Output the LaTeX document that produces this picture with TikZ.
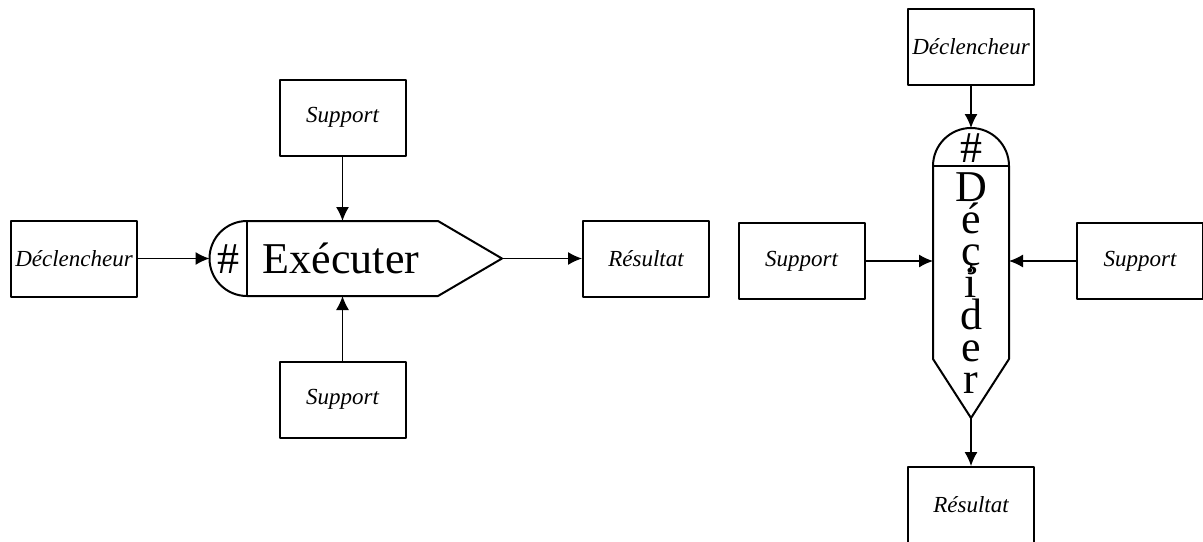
\documentclass[tikz,border=0pt]{standalone}
\usepackage{fontspec}
\setmainfont{Liberation Serif}
\usetikzlibrary{arrows.meta}
\begin{document}
\begin{tikzpicture}[x=0.5pt,y=-0.5pt,line join=round,>={Latex[length=7pt,width=6.5pt]},
	boite/.style={draw,line width=1pt,minimum width=63pt,minimum height=38pt,inner sep=0pt,font=\fontsize{11.5}{14}\selectfont\itshape},
	fleche/.style={->,line width=0.65pt},
	grand/.style={inner sep=0pt,font=\fontsize{22}{16}\selectfont}]
	\useasboundingbox (0,0) rectangle (1203,541);
	% Executer
	\node[boite] (decl1) at (74,258.5) {Déclencheur};
	\node[boite] (supH) at (342.5,117.5) {Support};
	\node[boite] (supB) at (342.5,399.5) {Support};
	\node[boite] (res1) at (646,258.5) {Résultat};
	\draw[line width=1pt] (247,221)--(438,221)--(502,258.5)--(438,296)--(247,296) arc[start angle=90,end angle=270,radius=37.5];
	\draw[line width=1pt] (247,221)--(247,296);
	\node[grand,anchor=base] (diese1) at (228,273) {\#};
	\node[grand,anchor=base] (exec) at (341,273) {Exécuter};
	\coordinate (exN) at (342.5,221); \coordinate (exS) at (342.5,296);
	\coordinate (exW) at (209.5,258.5); \coordinate (exE) at (502,258.5);
	\draw[fleche] (decl1)--(exW);
	\draw[fleche] (supH)--(exN);
	\draw[fleche] (supB)--(exS);
	\draw[fleche] (exE)--(res1);
	% Decider
	\node[boite] (decl2) at (971,47) {Déclencheur};
	\node[boite] (supG) at (801.5,261) {Support};
	\node[boite] (supD) at (1140,261) {Support};
	\node[boite] (res2) at (971,505) {Résultat};
	\draw[line width=1pt] (933,166)--(933,359)--(971,418)--(1009,359)--(1009,166) arc[start angle=0,end angle=-180,radius=38];
	\draw[line width=1pt] (933,166)--(1009,166);
	\node[grand,anchor=base] (diese2) at (971,162) {\#};
	\foreach \l [count=\i] in {D,é,ç,i,d,e,r}
		\node[grand,anchor=base] (dec\i) at (971,{201+32*(\i-1)}) {\l};
	\coordinate (deN) at (971,128); \coordinate (deS) at (971,418);
	\coordinate (deW) at (933,261); \coordinate (deE) at (1009,261);
	\draw[fleche] (decl2)--(deN);
	\draw[fleche] (supG)--(deW);
	\draw[fleche] (supD)--(deE);
	\draw[fleche] (deS)--(res2);
\end{tikzpicture}
\end{document}
